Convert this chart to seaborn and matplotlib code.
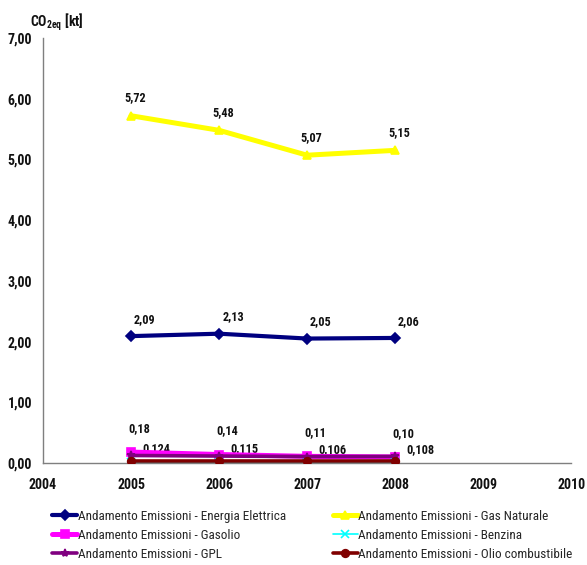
import matplotlib
matplotlib.use("Agg")
import matplotlib.pyplot as plt
from matplotlib import font_manager as fm
from matplotlib.ticker import FuncFormatter, MultipleLocator
import seaborn as sns
import pandas as pd

sns.set_style("white")
plt.rcParams["font.family"] = ["Liberation Sans", "DejaVu Sans"]

years = [2005, 2006, 2007, 2008]
series_names = [
    "Andamento Emissioni - Energia Elettrica",
    "Andamento Emissioni - Gas Naturale",
    "Andamento Emissioni - Gasolio",
    "Andamento Emissioni - Benzina",
    "Andamento Emissioni - GPL",
    "Andamento Emissioni - Olio combustibile",
]
energia_elettrica = [2.09, 2.13, 2.05, 2.06]
gas_naturale = [5.72, 5.48, 5.07, 5.15]
gasolio = [0.18, 0.14, 0.11, 0.10]
benzina = [0.01, 0.01, 0.01, 0.01]
gpl = [0.124, 0.115, 0.106, 0.108]
olio_combustibile = [0.025, 0.025, 0.025, 0.025]

values = [energia_elettrica, gas_naturale, gasolio, benzina, gpl, olio_combustibile]
colors = ["#000080", "#FFFF00", "#FF00FF", "#00FFFF", "#800080", "#800000"]
markers = ["D", "^", "s", "x", "*", "o"]
marker_sizes = [5, 5.5, 5.5, 5.5, 6, 5.5]
line_widths = [3.0, 3.6, 3.6, 1.2, 2.6, 2.6]
label_fmt = {0: "{:.2f}", 1: "{:.2f}", 2: "{:.2f}", 4: "{:.3f}"}
label_off = {0: (10, 12), 1: (3, 13), 2: (6, 17), 4: (18, 5)}


def narrow_font(bold):
    """Pick a condensed/narrow face if one is installed."""
    def is_bold(f):
        w = f.weight
        return (w in ("bold", "heavy", "black")) or (isinstance(w, int) and w >= 600)

    def is_narrow(f):
        st = f.stretch
        return ("Narrow" in f.name or "Condensed" in f.name
                or st in ("condensed", "semi-condensed")
                or (isinstance(st, int) and 300 <= st < 500))

    prefs = ["Liberation Sans Narrow", "Arial Narrow", "Roboto Condensed",
             "Open Sans Condensed", "Noto Sans", "Roboto", "Open Sans", "DejaVu Sans"]
    cands = [f for f in fm.fontManager.ttflist if is_narrow(f) and is_bold(f) == bold
             and "Oblique" not in f.fname and "Italic" not in f.fname
             and f.style == "normal"]
    for p in prefs:
        for f in cands:
            if f.name == p or f.name.startswith(p):
                return fm.FontProperties(fname=f.fname)
    if cands:
        return fm.FontProperties(fname=cands[0].fname)
    return fm.FontProperties(family="Liberation Sans", weight="bold" if bold else "normal")


bold_fp = narrow_font(True)
reg_fp = narrow_font(False)

df = pd.concat(
    [pd.DataFrame({"anno": years, "valore": v, "serie": n}) for n, v in zip(series_names, values)],
    ignore_index=True,
)

fig = plt.figure(figsize=(5.87, 5.65), dpi=100)
renderer = fig.canvas.get_renderer()


def fitted(fp, text, target_px, max_size):
    """Font size giving the wanted text width in pixels."""
    probe = fp.copy()
    probe.set_size(10)
    w, _, _ = renderer.get_text_width_height_descent(text, probe, ismath=False)
    size = min(max_size, 10 * target_px / w)
    out = fp.copy()
    out.set_size(size)
    return out


ax = fig.add_axes([0.0733, 0.1805, 0.8997, 0.7522])

for i, name in enumerate(series_names):
    sub = df[df["serie"] == name]
    sns.lineplot(
        data=sub, x="anno", y="valore", ax=ax, color=colors[i], linewidth=line_widths[i],
        marker=markers[i], markersize=marker_sizes[i], markeredgecolor=colors[i],
        markeredgewidth=1.2, label=name, zorder=3 + i,
    )

lab_fp = fitted(bold_fp, "0,124", 28, 11)
for i in label_fmt:
    for x, y in zip(years, values[i]):
        ax.annotate(
            label_fmt[i].format(y).replace(".", ","), (x, y),
            xytext=label_off[i], textcoords="offset points",
            ha="center", va="center", fontproperties=lab_fp, color="#111111",
        )

ax.set_xlim(2004, 2010)
ax.set_ylim(0, 7)
ax.xaxis.set_major_locator(MultipleLocator(1))
ax.yaxis.set_major_locator(MultipleLocator(1))
ax.yaxis.set_major_formatter(FuncFormatter(lambda v, p: f"{v:.2f}".replace(".", ",")))
ax.set_xlabel("")
ax.set_ylabel("")
for s in ["top", "right"]:
    ax.spines[s].set_visible(False)
for s in ["left", "bottom"]:
    ax.spines[s].set_color("#7f7f7f")
    ax.spines[s].set_linewidth(1.0)
ax.tick_params(axis="both", direction="out", length=4, width=1, color="#7f7f7f",
               labelcolor="#111111")
ax.tick_params(axis="x", pad=7)
ax.tick_params(axis="y", pad=4)
tick_fp = fitted(bold_fp, "2004", 28, 12)
for lab in ax.get_xticklabels() + ax.get_yticklabels():
    lab.set_fontproperties(tick_fp)

fig.text(30 / 587, 1 - 22 / 565, r"CO$_{\mathregular{2eq}}$ [kt]", fontproperties=tick_fp,
         ha="left", va="center", color="#111111")

# legend filled row by row: reorder for matplotlib's column-major layout
handles, labels = ax.get_legend_handles_labels()
if ax.legend_:
    ax.legend_.remove()
order = [0, 2, 4, 1, 3, 5]
leg_fp = fitted(reg_fp, series_names[0], 208, 11)
fs = leg_fp.get_size_in_points()
leg = fig.legend([handles[k] for k in order], [labels[k] for k in order],
                 loc="upper left", bbox_to_anchor=(52 / 587, 1 - 510 / 565), ncol=2,
                 frameon=False, prop=leg_fp, handlelength=25 * 0.72 / fs,
                 handletextpad=0.5 * 0.72 / fs, columnspacing=47 * 0.72 / fs,
                 labelspacing=0.45, borderaxespad=0, borderpad=0)

fig.savefig("out.png", dpi=100)
